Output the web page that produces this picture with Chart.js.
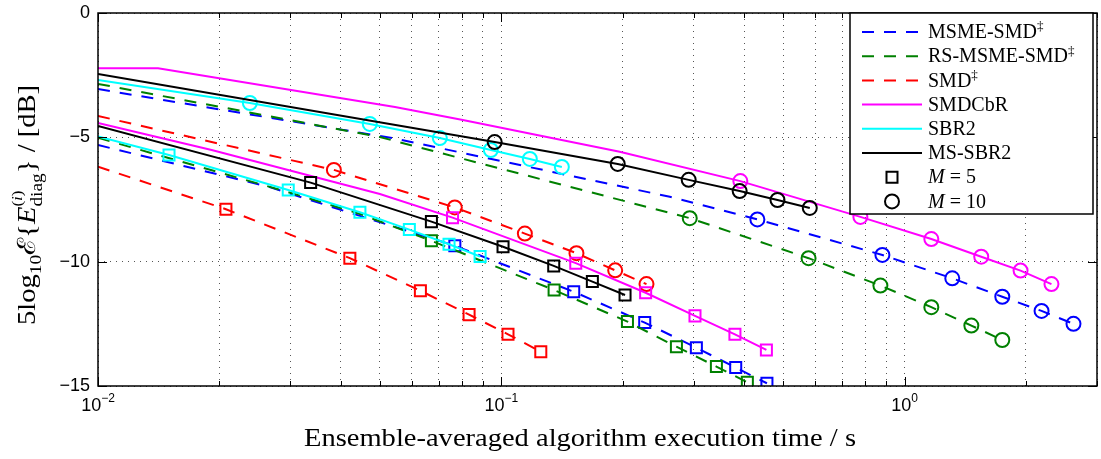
<!DOCTYPE html>
<html>
<head>
<meta charset="utf-8">
<script src="https://cdn.jsdelivr.net/npm/chart.js@4.4.0/dist/chart.umd.min.js"></script>
<style>
  body { margin: 0; background: #fff; }
  canvas { display: block; }
</style>
</head>
<body>
<canvas id="myChart" width="1101" height="459"></canvas>
<script>
// each curve: a few unmarked points from the left edge, then the marked points

// MSME-SMD
const msmeM10LeadX = [0.01, 0.0545, 0.2617];
const msmeM10LeadY = [-3.06, -5.05, -7.39];
const msmeM10X = [0.4315, 0.881, 1.313, 1.747, 2.186, 2.623];
const msmeM10Y = [-8.30, -9.73, -10.67, -11.41, -11.98, -12.50];
const msmeM5LeadX = [0.01, 0.02638, 0.04461];
const msmeM5LeadY = [-5.31, -6.98, -8.16];
const msmeM5X = [0.0767, 0.1512, 0.2268, 0.3046, 0.3813, 0.4557];
const msmeM5Y = [-9.36, -11.21, -12.45, -13.46, -14.26, -14.89];

// RS-MSME-SMD
const rsM10LeadX = [0.01, 0.050];
const rsM10LeadY = [-2.85, -4.99];
const rsM10X = [0.2933, 0.578, 0.871, 1.165, 1.464, 1.747];
const rsM10Y = [-8.25, -9.86, -10.96, -11.83, -12.57, -13.15];
const rsM5LeadX = [0.01, 0.02958, 0.04461];
const rsM5LeadY = [-5.02, -7.20, -8.08];
const rsM5X = [0.0671, 0.1352, 0.2055, 0.2718, 0.3415, 0.4075];
const rsM5Y = [-9.16, -11.14, -12.41, -13.42, -14.22, -14.85];

// SMD
const smdM10LeadX = [0.01];
const smdM10LeadY = [-4.14];
const smdM10X = [0.03845, 0.0767, 0.1144, 0.1536, 0.1916, 0.2291];
const smdM10Y = [-6.31, -7.82, -8.87, -9.66, -10.35, -10.90];
const smdM5LeadX = [0.01];
const smdM5LeadY = [-6.18];
const smdM5X = [0.02076, 0.04212, 0.06301, 0.0832, 0.1039, 0.1253];
const smdM5Y = [-7.89, -9.86, -11.17, -12.13, -12.92, -13.62];

// SMDCbR
const cbrM10LeadX = [0.01, 0.01409, 0.0545, 0.0803, 0.1966];
const cbrM10LeadY = [-2.22, -2.22, -3.78, -4.30, -5.58];
const cbrM10X = [0.3915, 0.777, 1.165, 1.549, 1.939, 2.313];
const cbrM10Y = [-6.76, -8.20, -9.09, -9.80, -10.36, -10.90];
const cbrM5LeadX = [0.01, 0.01913, 0.050];
const cbrM5LeadY = [-4.42, -5.51, -7.28];
const cbrM5X = [0.0757, 0.1530, 0.2280, 0.3022, 0.3796, 0.4543];
const cbrM5Y = [-8.23, -10.06, -11.25, -12.18, -12.92, -13.55];

// SBR2
const sbrM10LeadX = [0.01];
const sbrM10LeadY = [-2.69];
const sbrM10X = [0.0238, 0.0472, 0.0704, 0.0942, 0.1177, 0.1413];
const sbrM10Y = [-3.62, -4.46, -5.03, -5.51, -5.87, -6.19];
const sbrM5LeadX = [0.01];
const sbrM5LeadY = [-4.97];
const sbrM5X = [0.015, 0.02963, 0.04461, 0.05916, 0.0742, 0.0886];
const sbrM5Y = [-5.71, -7.12, -8.01, -8.71, -9.30, -9.79];

// MS-SBR2
const msbrM10LeadX = [0.01];
const msbrM10LeadY = [-2.45];
const msbrM10X = [0.0963, 0.1944, 0.2915, 0.390, 0.484, 0.582];
const msbrM10Y = [-5.19, -6.07, -6.71, -7.16, -7.52, -7.84];
const msbrM5LeadX = [0.01];
const msbrM5LeadY = [-4.54];
const msbrM5X = [0.03367, 0.0671, 0.1010, 0.1349, 0.1682, 0.2027];
const msbrM5Y = [-6.82, -8.39, -9.40, -10.17, -10.80, -11.34];

// axes
const xTicks = [0.01,0.02,0.03,0.04,0.05,0.06,0.07,0.08,0.09,0.1,0.2,0.3,0.4,0.5,0.6,0.7,0.8,0.9,1,2,3];
const decadeValues = [0.01, 0.1, 1];
const decadeExps = ['\u22122', '\u22121', '0'];
const yTicks = [0, -5, -10, -15];

// legend
const legendNames = ['MSME-SMD', 'RS-MSME-SMD', 'SMD', 'SMDCbR', 'SBR2', 'MS-SBR2'];
const legendDagger = [true, true, true, false, false, false];
const markerValues = ['5', '10'];

const methods = [
  {color: '#0000ff', dashed: true,  m10: [msmeM10LeadX, msmeM10LeadY, msmeM10X, msmeM10Y], m5: [msmeM5LeadX, msmeM5LeadY, msmeM5X, msmeM5Y]},
  {color: '#008000', dashed: true,  m10: [rsM10LeadX, rsM10LeadY, rsM10X, rsM10Y], m5: [rsM5LeadX, rsM5LeadY, rsM5X, rsM5Y]},
  {color: '#ff0000', dashed: true,  m10: [smdM10LeadX, smdM10LeadY, smdM10X, smdM10Y], m5: [smdM5LeadX, smdM5LeadY, smdM5X, smdM5Y]},
  {color: '#ff00ff', dashed: false, m10: [cbrM10LeadX, cbrM10LeadY, cbrM10X, cbrM10Y], m5: [cbrM5LeadX, cbrM5LeadY, cbrM5X, cbrM5Y]},
  {color: '#00ffff', dashed: false, m10: [sbrM10LeadX, sbrM10LeadY, sbrM10X, sbrM10Y], m5: [sbrM5LeadX, sbrM5LeadY, sbrM5X, sbrM5Y]},
  {color: '#000000', dashed: false, m10: [msbrM10LeadX, msbrM10LeadY, msbrM10X, msbrM10Y], m5: [msbrM5LeadX, msbrM5LeadY, msbrM5X, msbrM5Y]}
];

const DASH = [12, 10];
const LW = 2;
const serif = '"Liberation Serif", "DejaVu Serif", serif';
const sans = '"Liberation Sans", Arial, sans-serif';

function pts(xs, ys) {
  return xs.map((x, i) => ({x: x, y: ys[i]}));
}

let datasets = [];
methods.forEach((m, k) => {
  [['m10', 'circle', 7], ['m5', 'rect', 7.8]].forEach(function (s) {
    const c = m[s[0]];
    datasets.push({
      data: pts(c[0].concat(c[2]), c[1].concat(c[3])),
      borderColor: m.color,
      borderWidth: LW,
      borderDash: m.dashed ? DASH : [],
      pointRadius: 0,
      fill: false,
      tension: 0,
      order: 40 - 4 * k
    });
    datasets.push({
      data: pts(c[2], c[3]),
      showLine: false,
      pointStyle: s[1],
      pointRadius: s[2],
      pointHoverRadius: s[2],
      pointBorderColor: m.color,
      pointBackgroundColor: 'rgba(0,0,0,0)',
      pointBorderWidth: LW,
      order: 39 - 4 * k
    });
  });
});

// draws a row of text pieces; 'save'/'restore' let a superscript and subscript stack
function drawPieces(ctx, parts, startX, baseY) {
  let x = startX, saved = 0;
  parts.forEach(p => {
    if (p === 'save') { saved = x; return; }
    if (p === 'restore') { x = saved; return; }
    ctx.font = p[1];
    ctx.fillText(p[0], x, baseY + p[2]);
    x += ctx.measureText(p[0]).width;
  });
  return x - startX;
}
function piecesWidth(ctx, parts) {
  let x = 0, saved = 0, maxX = 0;
  parts.forEach(p => {
    if (p === 'save') { saved = x; return; }
    if (p === 'restore') { x = saved; return; }
    ctx.font = p[1];
    x += ctx.measureText(p[0]).width;
    maxX = Math.max(maxX, x);
  });
  return maxX;
}

function noPad(s) {
  s.paddingTop = 0; s.paddingBottom = 0; s.paddingLeft = 0; s.paddingRight = 0;
}

const decor = {
  id: 'decor',
  afterDraw(chart) {
    const ctx = chart.ctx, a = chart.chartArea, xs = chart.scales.x, ys = chart.scales.y;
    ctx.save();
    ctx.setLineDash([]);
    ctx.strokeStyle = '#000';
    ctx.fillStyle = '#000';

    // inside ticks
    ctx.lineWidth = 1;
    ctx.beginPath();
    xTicks.forEach(v => {
      const px = Math.round(xs.getPixelForValue(v)) + 0.5;
      const len = decadeValues.includes(v) ? 9 : 5;
      ctx.moveTo(px, a.bottom); ctx.lineTo(px, a.bottom - len);
      ctx.moveTo(px, a.top); ctx.lineTo(px, a.top + len);
    });
    yTicks.forEach(v => {
      const py = Math.round(ys.getPixelForValue(v)) + 0.5;
      ctx.moveTo(a.left, py); ctx.lineTo(a.left + 9, py);
      ctx.moveTo(a.right, py); ctx.lineTo(a.right - 9, py);
    });
    ctx.stroke();

    // plot box
    ctx.lineWidth = 1.5;
    ctx.strokeRect(a.left, a.top, a.right - a.left, a.bottom - a.top);

    // y tick labels
    ctx.font = '18px ' + sans;
    ctx.textAlign = 'right';
    ctx.textBaseline = 'middle';
    yTicks.forEach(v => {
      ctx.fillText(v < 0 ? '\u2212' + Math.abs(v) : String(v), a.left - 8, ys.getPixelForValue(v));
    });

    // x tick labels 10^n
    ctx.textBaseline = 'alphabetic';
    ctx.textAlign = 'left';
    decadeValues.forEach((v, i) => {
      const parts = [['10', '18px ' + sans, 0], [decadeExps[i], '12px ' + sans, -9]];
      const w = piecesWidth(ctx, parts);
      drawPieces(ctx, parts, xs.getPixelForValue(v) - w / 2, 411);
    });

    // x title, stretched to the width of the original label
    ctx.save();
    ctx.font = '25px ' + serif;
    const xt = 'Ensemble-averaged algorithm execution time / s';
    const xtw = ctx.measureText(xt).width;
    ctx.translate(580, 446);
    ctx.scale(552 / xtw, 1);
    ctx.textAlign = 'center';
    ctx.fillText(xt, 0, 0);
    ctx.restore();

    // y title
    ctx.textAlign = 'left';
    const big = '25px ' + serif, sub = '17px ' + serif, sup = '15px ' + serif;
    const yParts = [
      ['5log', big, 0], ['10', sub, 6], ['\u2130', big, 0], ['{', big, 0], ['E', 'italic ' + big, 0],
      'save', ['(', sup, -13], ['i', 'italic ' + sup, -13], [')', sup, -13], 'restore',
      ['diag', sub, 7], ['}', big, 0], [' / [dB]', big, 0]
    ];
    ctx.save();
    ctx.translate(35, 205);
    ctx.rotate(-Math.PI / 2);
    const yw = piecesWidth(ctx, yParts);
    ctx.scale(240 / yw, 1);
    drawPieces(ctx, yParts, -yw / 2, 0);
    ctx.restore();

    // legend
    const L = {left: 850, top: 13, right: 1093, bottom: 214};
    ctx.fillStyle = '#fff';
    ctx.fillRect(L.left, L.top, L.right - L.left, L.bottom - L.top);
    ctx.strokeStyle = '#000';
    ctx.lineWidth = 1.5;
    ctx.strokeRect(L.left, L.top, L.right - L.left, L.bottom - L.top);
    const rowY = i => 32 + i * 24.2;
    ctx.textBaseline = 'middle';
    legendNames.forEach((name, i) => {
      const y = rowY(i);
      ctx.strokeStyle = methods[i].color;
      ctx.lineWidth = LW;
      ctx.setLineDash(methods[i].dashed ? DASH : []);
      ctx.beginPath();
      ctx.moveTo(862, y); ctx.lineTo(922, y);
      ctx.stroke();
      ctx.setLineDash([]);
      ctx.fillStyle = '#000';
      const parts = [[name, '20px ' + serif, 1]];
      if (legendDagger[i]) parts.push(['\u2021', '13px ' + serif, -5]);
      drawPieces(ctx, parts, 928, y);
    });
    markerValues.forEach((val, j) => {
      const y = rowY(6 + j);
      ctx.strokeStyle = '#000';
      ctx.lineWidth = LW;
      ctx.beginPath();
      if (j === 0) ctx.rect(892 - 5.5, y - 5.5, 11, 11);
      else ctx.arc(892, y, 7, 0, Math.PI * 2);
      ctx.stroke();
      ctx.fillStyle = '#000';
      drawPieces(ctx, [['M', 'italic 20px ' + serif, 1], [' = ' + val, '20px ' + serif, 1]], 928, y);
    });
    ctx.restore();
  }
};

let ctx = document.getElementById('myChart');
new Chart(ctx, {
  type: 'line',
  data: { datasets: datasets },
  plugins: [decor],
  options: {
    responsive: false,
    animation: false,
    devicePixelRatio: 1,
    layout: { autoPadding: false, padding: { top: 13, right: 4, left: 0, bottom: 0 } },
    plugins: { legend: { display: false }, tooltip: { enabled: false } },
    scales: {
      x: {
        type: 'logarithmic',
        min: 0.01,
        max: 3,
        afterBuildTicks: s => { s.ticks = xTicks.map(v => ({value: v})); },
        afterFit: s => { s.height = 73; noPad(s); },
        ticks: { display: false, autoSkip: false },
        grid: { color: '#555', lineWidth: 1, drawTicks: false },
        border: { display: false, dash: [1, 5] }
      },
      y: {
        min: -15,
        max: 0,
        afterBuildTicks: s => { s.ticks = yTicks.map(v => ({value: v})); },
        afterFit: s => { s.width = 98; noPad(s); },
        ticks: { display: false },
        grid: { color: '#555', lineWidth: 1, drawTicks: false },
        border: { display: false, dash: [1, 5] }
      }
    }
  }
});
</script>
</body>
</html>
